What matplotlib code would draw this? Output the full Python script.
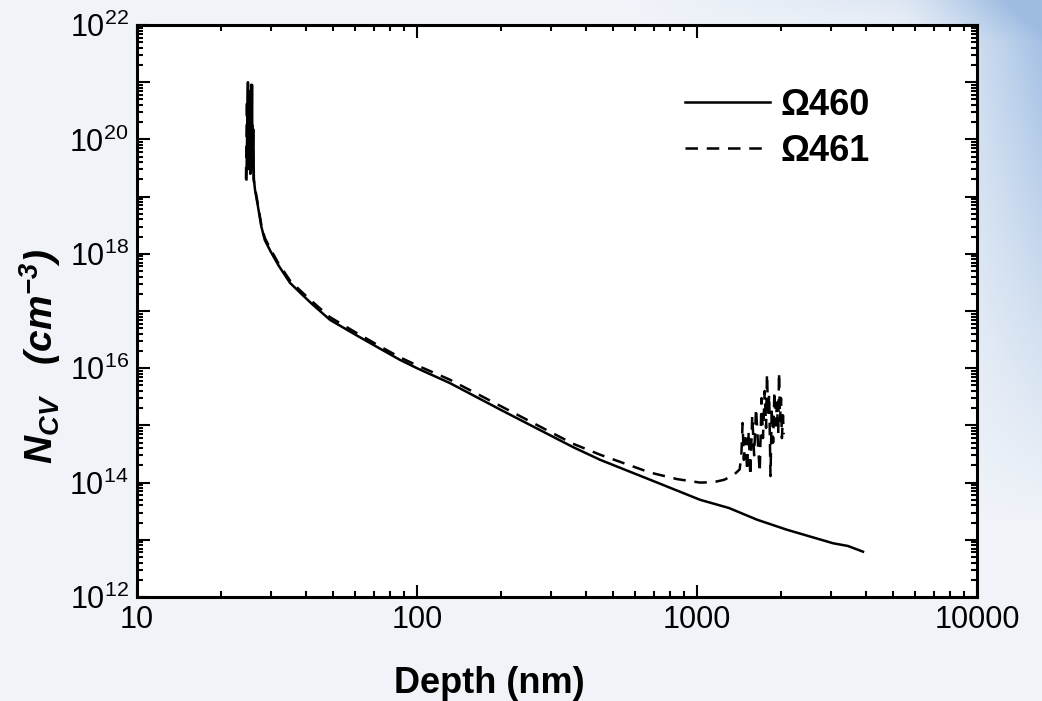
import numpy as np
import matplotlib
matplotlib.use('Agg')
import matplotlib.pyplot as plt
from matplotlib.ticker import LogLocator, FuncFormatter, NullFormatter, FixedLocator

# Omega460 (solid)
depth_460 = [24.6, 24.8, 24.9, 25.0, 25.15, 25.3, 25.45, 25.6, 25.75, 25.85, 26.0, 26.15,
             26.4, 27.0, 27.8, 28.6, 30.0, 32.0, 35.2, 38.2, 42.0, 48.9, 60, 75, 86.9, 100,
             131, 200, 360, 451, 700, 1026, 1300, 1637, 2094, 2600, 3062, 3459, 3917]
ncv_460 = [2e19, 3e20, 1e21, 5e19, 7e20, 3e19, 2e20, 4e19, 9e20, 3e19, 1.5e20, 2e19,
           1.3e19, 7e18, 3e18, 1.74e18, 1.1e18, 6.3e17, 3.1e17, 2.1e17, 1.35e17, 7e16, 3.9e16, 2.1e16, 1.4e16, 1.0e16,
           5.5e15, 1.85e15, 4.2e14, 2.5e14, 1.06e14, 5e13, 3.6e13, 2.25e13, 1.5e13, 1.1e13, 8.7e12, 7.8e12, 6.2e12]

# Omega461 (dashed)
depth_461 = [24.5, 24.7, 24.85, 25.0, 25.1, 25.25, 25.4, 25.55, 25.7, 25.9, 26.1,
             26.4, 27.0, 27.8, 28.6, 30.0, 32.0, 35.2, 38.2, 42.0, 48.9, 60, 75, 86.9, 100,
             131, 200, 360, 451, 679, 850, 1026, 1150, 1250, 1350, 1420,
             1440, 1455, 1470, 1490, 1510, 1530, 1550, 1575, 1600, 1625, 1650, 1675, 1700,
             1720, 1745, 1765, 1778, 1795, 1810, 1830, 1850, 1870, 1890, 1910, 1930, 1950,
             1963, 1980, 1995, 2010, 2028, 2040]
ncv_461 = [2e19, 5e20, 3e19, 8e20, 4e19, 4e20, 2.5e19, 9e20, 3e19, 2e20, 2e19,
           1.4e19, 7.5e18, 3.2e18, 1.9e18, 1.2e18, 6.8e17, 3.4e17, 2.3e17, 1.5e17, 7.8e16, 4.3e16, 2.3e16, 1.55e16, 1.12e16,
           6.3e15, 2.15e15, 4.8e14, 3.07e14, 1.5e14, 1.15e14, 1.0e14, 1.02e14, 1.12e14, 1.35e14, 1.7e14,
           3e14, 1.1e15, 2.5e14, 6e14, 1.6e14, 8e14, 1.3e14, 1.5e15, 3e14, 2e15, 5e14, 1.5e14, 3e15,
           6e14, 4e15, 9e14, 8e15, 1.5e15, 3.5e15, 1.3e14, 2e15, 5e14, 4e15, 1e15, 2.5e15, 7e14,
           8.5e15, 1.2e15, 3e15, 6e14, 1.5e15, 7e14]

x_ticks = [10, 100, 1000, 10000]
x_tick_labels = ['10', '100', '1000', '10000']

plt.rcParams['font.family'] = ['Liberation Sans', 'DejaVu Sans']
plt.rcParams['mathtext.fontset'] = 'custom'
plt.rcParams['mathtext.rm'] = 'Liberation Sans'
plt.rcParams['mathtext.it'] = 'Liberation Sans:italic'
plt.rcParams['mathtext.bf'] = 'Liberation Sans:bold:italic'

fig = plt.figure(figsize=(10.42, 7.01), dpi=100)

# slide-like background
H, W = 701, 1042
yy, xx = np.mgrid[0:H, 0:W]
xn = xx / W
yn = yy / H
base = np.array([0.945, 0.958, 0.978])
blue = np.array([0.62, 0.74, 0.89])
wgt = np.clip((xn - 0.86) / 0.14, 0, 1) ** 1.3 * np.clip(1 - yn / 0.75, 0, 1)
wgt = wgt + 0.35 * np.clip((xn - 0.6) / 0.4, 0, 1) * np.clip(1 - yn / 0.06, 0, 1)
wgt = np.clip(wgt, 0, 1)[..., None]
bg = base * (1 - wgt) + blue * wgt
bg_ax = fig.add_axes([0, 0, 1, 1], zorder=-1)
bg_ax.imshow(bg, aspect='auto')
bg_ax.axis('off')

ax = fig.add_axes([137 / W, 1 - 597 / H, 840 / W, 572 / H])
ax.set_facecolor('white')

ax.plot(depth_460, ncv_460, color='black', lw=1.8, label='Ω460')
ax.plot(depth_461, ncv_461, color='black', lw=1.8, ls=(0, (5, 3.5)), label='Ω461')

ax.set_xscale('log')
ax.set_yscale('log')
ax.set_xlim(10, 10000)
ax.set_ylim(1e12, 1e22)

ax.xaxis.set_major_locator(FixedLocator(x_ticks))
ax.xaxis.set_major_formatter(FuncFormatter(lambda v, p: x_tick_labels[x_ticks.index(int(round(v)))] if int(round(v)) in x_ticks else ''))
ax.xaxis.set_minor_locator(LogLocator(base=10, subs=np.arange(2, 10), numticks=20))
ax.xaxis.set_minor_formatter(NullFormatter())

ax.yaxis.set_major_locator(LogLocator(base=10, numticks=20))
ax.yaxis.set_major_formatter(FuncFormatter(
    lambda v, p: r'$10^{%d}$' % int(round(np.log10(v))) if int(round(np.log10(v))) % 2 == 0 else ''))
ax.yaxis.set_minor_locator(LogLocator(base=10, subs=np.arange(2, 10), numticks=20))
ax.yaxis.set_minor_formatter(NullFormatter())

ax.tick_params(which='both', direction='in', top=True, right=True, width=1.5, colors='black')
ax.tick_params(which='major', length=9, labelsize=22, pad=6)
ax.tick_params(which='minor', length=4.5)
for s in ax.spines.values():
    s.set_linewidth(2.2)

ax.set_xlabel('Depth (nm)', fontsize=26, fontweight='bold')
ax.xaxis.set_label_coords(0.42, -0.12)
ax.set_ylabel(r'$\mathbf{N_{CV}\ \ \ (cm^{-3})}$', fontsize=28)
ax.yaxis.set_label_coords(-0.088, 0.42)

leg = ax.legend(loc='upper left', bbox_to_anchor=(0.652, 0.89), frameon=False,
                prop={'size': 26, 'weight': 'bold'}, handlelength=2.35,
                handletextpad=0.3, labelspacing=0.3, borderpad=0, borderaxespad=0)

fig.savefig('out.png', dpi=100)
